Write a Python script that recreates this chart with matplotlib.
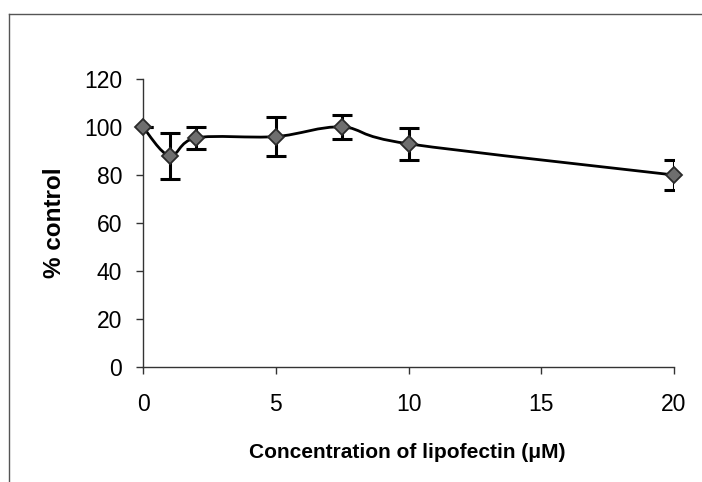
import matplotlib
matplotlib.use("Agg")
import matplotlib.pyplot as plt
from matplotlib.path import Path
from matplotlib.patches import PathPatch
from matplotlib.lines import Line2D
import numpy as np

conc = [0, 1, 2, 5, 7.5, 10, 20]
pct_control = [100, 88, 95.5, 96, 100, 93, 80]
err = [0, 9.5, 4.6, 8, 5.2, 6.7, 6.4]
xticks = [0, 5, 10, 15, 20]
yticks = [0, 20, 40, 60, 80, 100, 120]

plt.rcParams['font.family'] = ['Liberation Sans', 'DejaVu Sans']

fig = plt.figure(figsize=(7.02, 4.82), dpi=100)
ax = fig.add_axes([143/702, 1-367/482, (674-143)/702, (367-79)/482])

# smoothed line (Excel-style Catmull-Rom Bezier)
x = np.array(conc, float)
y = np.array(pct_control, float)
n = len(x)
verts = [(x[0], y[0])]
codes = [Path.MOVETO]
for i in range(n - 1):
    p0 = np.array([x[max(i-1, 0)], y[max(i-1, 0)]])
    p1 = np.array([x[i], y[i]])
    p2 = np.array([x[i+1], y[i+1]])
    p3 = np.array([x[min(i+2, n-1)], y[min(i+2, n-1)]])
    c1 = p1 + (p2 - p0) / 6.0
    c2 = p2 - (p3 - p1) / 6.0
    verts += [tuple(c1), tuple(c2), tuple(p2)]
    codes += [Path.CURVE4] * 3
ax.add_patch(PathPatch(Path(verts, codes), fill=False, edgecolor='black', lw=2.0, zorder=2))

ax.errorbar(conc, pct_control, yerr=err, fmt='none', ecolor='black', elinewidth=2.2,
            capsize=7, capthick=2.2, zorder=3)
ax.plot(conc, pct_control, linestyle='none', marker='D', markersize=8,
        markerfacecolor='#6e6e6e', markeredgecolor='#2a2a2a', markeredgewidth=1.3,
        zorder=4, clip_on=False)

ax.set_xlim(0, 20)
ax.set_ylim(0, 120)
ax.set_xticks(xticks)
ax.set_yticks(yticks)
for s in ['top', 'right']:
    ax.spines[s].set_visible(False)
for s in ['left', 'bottom']:
    ax.spines[s].set_linewidth(1.0)
    ax.spines[s].set_color('#333333')
ax.tick_params(axis='y', direction='out', length=5, width=1, pad=10, labelsize=16.5, colors='#333333', labelcolor='black')
ax.tick_params(axis='x', direction='out', length=5, width=1, pad=14, labelsize=16.5, colors='#333333', labelcolor='black')

ax.set_ylabel('% control', fontsize=17.5, fontweight='bold')
ax.yaxis.set_label_coords((66-143)/531, 0.5)
ax.set_xlabel('Concentration of lipofectin (\u03bcM)', fontsize=15, fontweight='bold')
ax.xaxis.set_label_coords((245+570)/2/531 - 143/531, (367-443)/288)

# outer frame
fig.add_artist(Line2D([9/702, 9/702], [0, 1-14/482], transform=fig.transFigure, color='#555555', lw=1))
fig.add_artist(Line2D([9/702, 1], [1-14/482, 1-14/482], transform=fig.transFigure, color='#555555', lw=1))

fig.savefig('out.png', dpi=100)
